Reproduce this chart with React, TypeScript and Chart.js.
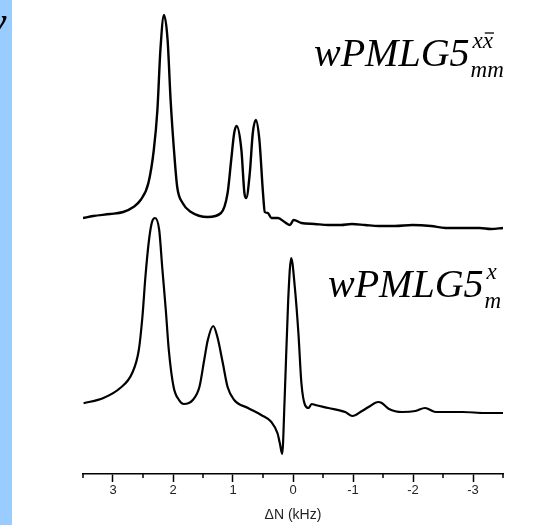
import React, { useEffect, useRef } from 'react';
import { Chart, registerables } from 'chart.js';

Chart.register(...registerables);

// Frequency offsets (kHz) and intensities (arbitrary units, height above the axis line)
const topShift = [3.5, 3.33, 3.05, 2.83, 2.66, 2.54, 2.41, 2.32, 2.26, 2.21, 2.15, 2.09, 2.04, 1.98, 1.93, 1.84, 1.7, 1.42, 1.2, 1.09, 1.03, 0.98, 0.94, 0.86, 0.81, 0.78, 0.72, 0.67, 0.62, 0.56, 0.5, 0.47, 0.42, 0.36, 0.25, 0.14, 0.05, -0.01, -0.14, -0.36, -0.59, -0.8, -0.98, -1.2, -1.43, -1.7, -1.99, -2.3, -2.54, -2.8, -3.11, -3.3, -3.5];
const topIntensity = [256, 258, 260, 262, 267, 274, 291, 324, 364, 424, 459, 434, 374, 321, 287, 271, 262, 257, 261, 281, 314, 341, 348, 324, 281, 276, 301, 341, 354, 334, 281, 262, 261, 256, 256, 252, 249, 254, 251, 250, 249, 249, 250, 249, 248, 248, 249, 248, 246, 246, 246, 245, 246];

const bottomShift = [3.49, 3.16, 2.88, 2.68, 2.57, 2.51, 2.46, 2.4, 2.35, 2.3, 2.23, 2.18, 2.12, 2.07, 1.99, 1.9, 1.82, 1.67, 1.56, 1.48, 1.42, 1.33, 1.26, 1.17, 1.09, 0.98, 0.75, 0.53, 0.36, 0.26, 0.22, 0.18, 0.14, 0.08, 0.03, -0.03, -0.09, -0.14, -0.2, -0.26, -0.31, -0.37, -0.59, -0.87, -0.99, -1.15, -1.26, -1.42, -1.48, -1.6, -1.82, -2.04, -2.2, -2.38, -2.83, -3.2, -3.5];
const bottomIntensity = [70.7, 76, 86, 101, 124, 157, 197, 234, 252, 256, 244, 207, 164, 124, 87, 74, 70, 74, 87, 114, 134, 148, 137, 111, 87, 74, 66, 59, 52, 41, 31, 20, 74, 174, 216, 187, 141, 91, 69, 66, 70, 69, 66, 62, 58, 63, 67, 72, 71, 65, 62, 63, 66, 62, 62, 61, 61];

const xMin = -3.5;
const xMax = 3.5;
const yMin = 0;
const yMax = 474;
const majorTicks = [-3, -2, -1, 0, 1, 2, 3];
const minorTicks = [-3.5, -2.5, -1.5, -0.5, 0.5, 1.5, 2.5, 3.5];
const axisTitle = 'ΔN (kHz)';

const labelTopMain = 'wPMLG5';
const labelTopSup = 'xx';
const labelTopSub = 'mm';
const labelBottomMain = 'wPMLG5';
const labelBottomSup = 'x';
const labelBottomSub = 'm';

const toPoints = (xs: number[], ys: number[]) => xs.map((x, i) => ({ x, y: ys[i] }));

const decorPlugin = {
  id: 'decor',
  beforeDraw(chart: any) {
    const ctx = chart.ctx;
    ctx.save();
    ctx.fillStyle = '#ffffff';
    ctx.fillRect(0, 0, chart.width, chart.height);
    ctx.fillStyle = '#99ccff';
    ctx.fillRect(0, 0, 12, chart.height);
    ctx.fillStyle = '#000';
    ctx.font = 'italic 44px "Liberation Serif"';
    ctx.textBaseline = 'alphabetic';
    ctx.fillText('ν', -13, 36);
    ctx.restore();
  },
  afterDraw(chart: any) {
    const ctx = chart.ctx;
    const xs = chart.scales.x;
    const top = chart.chartArea.bottom;
    ctx.save();
    // minor ticks
    ctx.strokeStyle = '#000';
    ctx.lineWidth = 1.5;
    minorTicks.forEach((v) => {
      const px = xs.getPixelForValue(v);
      ctx.beginPath();
      ctx.moveTo(px, top);
      ctx.lineTo(px, top + 4);
      ctx.stroke();
    });
    // labels
    ctx.fillStyle = '#000';
    ctx.textBaseline = 'alphabetic';
    const drawLabel = (main: string, sup: string, sub: string, x: number, y: number, bar: boolean) => {
      ctx.font = 'italic 40px "Liberation Serif"';
      ctx.fillText(main, x, y);
      const w = ctx.measureText(main).width;
      ctx.font = 'italic 23px "Liberation Serif"';
      const sx = x + w + 3;
      ctx.fillText(sup, sx, y - 18);
      if (bar) {
        const w1 = ctx.measureText(sup[0]).width;
        const w2 = ctx.measureText(sup).width;
        ctx.lineWidth = 1.3;
        ctx.beginPath();
        ctx.moveTo(sx + w1 + 2, y - 33);
        ctx.lineTo(sx + w2 + 1, y - 33);
        ctx.stroke();
      }
      ctx.fillText(sub, x + w + 1, y + 11);
    };
    drawLabel(labelTopMain, labelTopSup, labelTopSub, 314, 66, true);
    drawLabel(labelBottomMain, labelBottomSup, labelBottomSub, 328, 297, false);
    ctx.restore();
  },
};

export default function App() {
  const ref = useRef<HTMLCanvasElement | null>(null);
  useEffect(() => {
    if (!ref.current) return;
    const chart = new Chart(ref.current, {
      type: 'scatter',
      data: {
        datasets: [
          {
            data: toPoints(topShift, topIntensity),
            showLine: true,
            borderColor: '#000',
            borderWidth: 2.4,
            pointRadius: 0,
            cubicInterpolationMode: 'monotone',
          },
          {
            data: toPoints(bottomShift, bottomIntensity),
            showLine: true,
            borderColor: '#000',
            borderWidth: 2.2,
            pointRadius: 0,
            cubicInterpolationMode: 'monotone',
          },
        ],
      },
      options: {
        animation: false,
        responsive: false,
        devicePixelRatio: 1,
        layout: { padding: { left: 83, right: 38, top: 0, bottom: 0 } },
        plugins: { legend: { display: false }, tooltip: { enabled: false } },
        scales: {
          x: {
            type: 'linear',
            reverse: true,
            min: xMin,
            max: xMax,
            afterBuildTicks: (scale: any) => {
              scale.ticks = majorTicks.map((v) => ({ value: v }));
            },
            afterFit: (scale: any) => {
              scale.height = 51;
            },
            border: { display: true, color: '#000', width: 1.5 },
            grid: { display: true, drawOnChartArea: false, drawTicks: true, tickLength: 8, color: '#000', tickColor: '#000', tickWidth: 1.5 },
            ticks: {
              autoSkip: false,
              maxRotation: 0,
              padding: 1,
              color: '#222',
              font: { family: '"Liberation Sans", Arial, sans-serif', size: 13 },
              callback: (v: any) => String(v),
            },
            title: {
              display: true,
              text: axisTitle,
              color: '#222',
              padding: { top: 0, bottom: 1 },
              font: { family: '"Liberation Sans", Arial, sans-serif', size: 14 },
            },
          },
          y: { type: 'linear', display: false, min: yMin, max: yMax },
        },
      },
      plugins: [decorPlugin],
    });
    return () => chart.destroy();
  }, []);
  return (
    <div style={{ position: 'fixed', left: 0, top: 0, width: 541, height: 525, background: '#fff' }}>
      <canvas ref={ref} width={541} height={525} style={{ width: 541, height: 525, display: 'block' }} />
    </div>
  );
}
